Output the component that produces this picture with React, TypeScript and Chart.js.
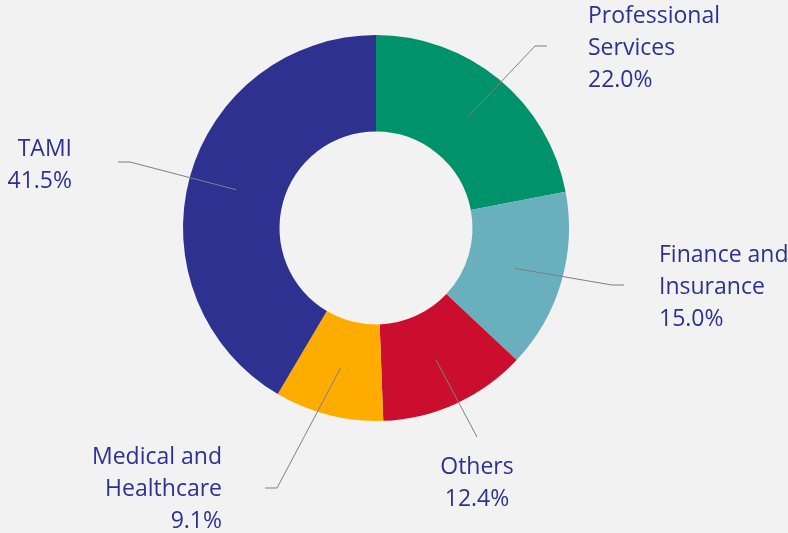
import React, { useEffect, useRef } from "react";
import { Chart, registerables } from "chart.js";

Chart.register(...registerables);

const categories = ["Professional Services", "Finance and Insurance", "Others", "Medical and Healthcare", "TAMI"];
const shares = [22.0, 15.0, 12.4, 9.1, 41.5];
const colors = ["#00936B", "#6AAFBE", "#CC0E2E", "#FFAC00", "#2E3190"];
const labelLines = [
  ["Professional", "Services", "22.0%"],
  ["Finance and", "Insurance", "15.0%"],
  ["Others", "12.4%"],
  ["Medical and", "Healthcare", "9.1%"],
  ["TAMI", "41.5%"],
];

// label layout: elbow point, line end, text anchor, alignment
const labelLayout = [
  { elbow: [535, 46], end: [547, 46], tx: 588, ty: 16, align: "left" },
  { elbow: [612, 285], end: [624, 285], tx: 659, ty: 255, align: "left" },
  { elbow: [477, 437], end: [477, 437], tx: 477, ty: 467, align: "center" },
  { elbow: [277, 488], end: [265, 488], tx: 222, ty: 457, align: "right" },
  { elbow: [130, 162], end: [118, 162], tx: 72, ty: 149, align: "right" },
];

const labelPlugin = {
  id: "outsideLabels",
  afterDatasetsDraw(chart: any) {
    const ctx = chart.ctx;
    const meta = chart.getDatasetMeta(0);
    ctx.save();
    meta.data.forEach((arc: any, i: number) => {
      const p = arc.getProps(["x", "y", "startAngle", "endAngle", "innerRadius", "outerRadius"], true);
      const mid = (p.startAngle + p.endAngle) / 2;
      const r = (p.innerRadius + p.outerRadius) / 2;
      const sx = p.x + Math.cos(mid) * r;
      const sy = p.y + Math.sin(mid) * r;
      const L = labelLayout[i];
      ctx.strokeStyle = "#7F7F7F";
      ctx.lineWidth = 1;
      ctx.beginPath();
      ctx.moveTo(sx, sy);
      ctx.lineTo(L.elbow[0], L.elbow[1]);
      ctx.lineTo(L.end[0], L.end[1]);
      ctx.stroke();
      ctx.fillStyle = "#2E3192";
      ctx.font = "23px 'Open Sans', Lato, sans-serif";
      ctx.textAlign = L.align;
      ctx.textBaseline = "middle";
      labelLines[i].forEach((t, j) => {
        ctx.fillText(t, L.tx, L.ty + j * 32.3);
      });
    });
    ctx.restore();
  },
};

export default function App() {
  const ref = useRef<HTMLCanvasElement>(null);
  useEffect(() => {
    const chart = new Chart(ref.current!, {
      type: "doughnut",
      data: {
        labels: categories,
        datasets: [
          {
            data: shares,
            backgroundColor: colors,
            borderWidth: 0,
          },
        ],
      },
      options: {
        animation: false,
        responsive: false,
        cutout: "50%",
        layout: { padding: { left: 183, right: 219, top: 35, bottom: 112 } },
        plugins: {
          legend: { display: false },
          tooltip: { enabled: false },
        },
      },
      plugins: [labelPlugin],
    });
    return () => chart.destroy();
  }, []);
  return (
    <div style={{ position: "fixed", left: 0, top: 0, width: 788, height: 533, background: "#F2F2F2" }}>
      <canvas ref={ref} width={788} height={533} style={{ display: "block" }} />
    </div>
  );
}
